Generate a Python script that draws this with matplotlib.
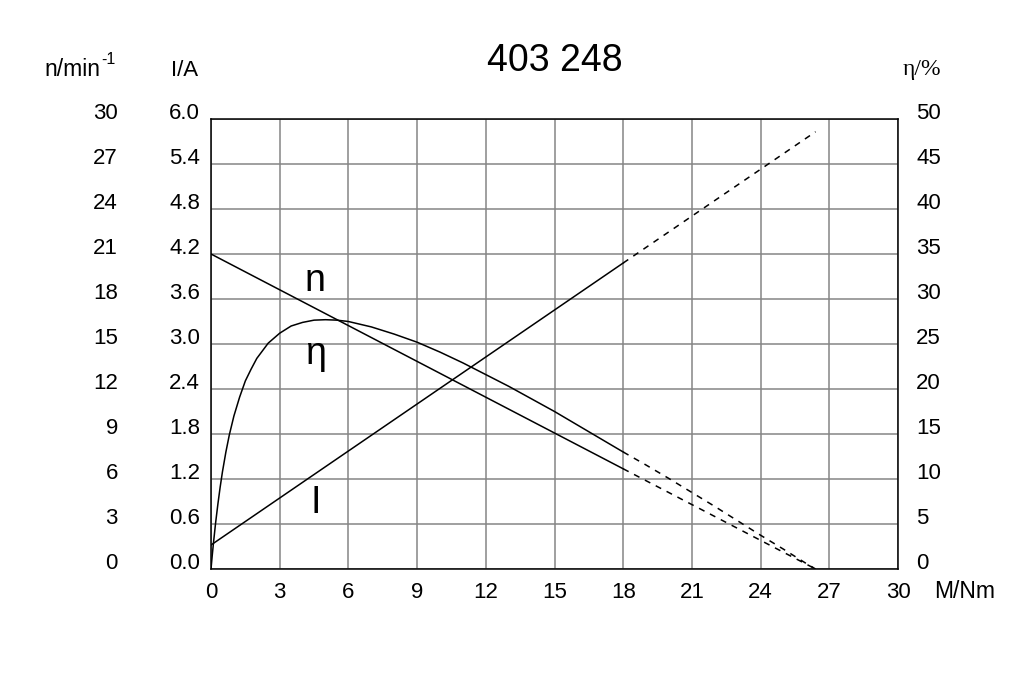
import matplotlib
matplotlib.use("Agg")
import matplotlib.pyplot as plt

plt.rcParams['font.family'] = ['Liberation Sans', 'DejaVu Sans']

title = "403 248"
x_ticks = [0, 3, 6, 9, 12, 15, 18, 21, 24, 27, 30]
i_ticks = [0.0, 0.6, 1.2, 1.8, 2.4, 3.0, 3.6, 4.2, 4.8, 5.4, 6.0]
n_ticks = [0, 3, 6, 9, 12, 15, 18, 21, 24, 27, 30]
eta_ticks = [0, 5, 10, 15, 20, 25, 30, 35, 40, 45, 50]

# speed n (min^-1)
n_M_solid = [0, 18]
n_solid = [21.0, 6.68]
n_M_dash = [18, 26.4]
n_dash = [6.68, 0.0]

# current I (A)
i_M_solid = [0, 18]
i_solid = [0.32, 4.08]
i_M_dash = [18, 26.4]
i_dash = [4.08, 5.83]

# efficiency eta (%)
eta_M_solid = [0, 0.05, 0.1, 0.2, 0.3, 0.4, 0.5, 0.65, 0.8, 1.0, 1.25, 1.5, 1.75, 2,
               2.5, 3, 3.5, 4, 4.5, 5, 5.5, 6, 7, 8, 9, 10, 11, 12, 13, 14, 15, 16, 17, 18]
eta_solid = [0, 1.4, 2.7, 5.1, 7.2, 9.1, 10.8, 13.0, 14.9, 17.0, 19.1, 20.9, 22.2, 23.4,
             25.1, 26.2, 27.0, 27.4, 27.65, 27.7, 27.65, 27.5, 26.9, 26.1, 25.2, 24.1,
             22.9, 21.6, 20.3, 18.9, 17.5, 16.0, 14.5, 13.0]
eta_M_dash = [18, 19, 20, 21, 22, 23, 24, 25, 26, 26.4]
eta_dash = [13.0, 11.55, 10.05, 8.5, 6.95, 5.35, 3.75, 2.2, 0.6, 0.0]

W, H = 1021, 681
fig = plt.figure(figsize=(W / 100, H / 100), dpi=100)
left, right, bottom, top = 211, 898, 569, 119
ax = fig.add_axes([left / W, 1 - bottom / H, (right - left) / W, (bottom - top) / H])

fs = 16
ax.set_xlim(0, 30)
ax.set_ylim(0, 6)
ax.set_xticks(x_ticks)
ax.set_xticklabels([str(v) for v in x_ticks], fontsize=fs)
ax.set_yticks(i_ticks)
ax.set_yticklabels([f"{v:.1f}" for v in i_ticks], fontsize=fs, va='baseline')
ax.tick_params(length=0)
ax.tick_params(axis='x', pad=9.5)
ax.tick_params(axis='y', pad=8)
ax.grid(True, color='#858585', lw=1.1)
ax.set_axisbelow(True)
for s in ax.spines.values():
    s.set_color('black')
    s.set_linewidth(1.1)

ax_eta = ax.twinx()
ax_eta.set_ylim(0, 50)
ax_eta.set_yticks(eta_ticks)
ax_eta.set_yticklabels([str(v) for v in eta_ticks], fontsize=fs, va='baseline')
ax_eta.tick_params(length=0, pad=13)
for s in ax_eta.spines.values():
    s.set_visible(False)

ax_n = ax.twinx()
ax_n.set_ylim(0, 30)
ax_n.set_yticks(n_ticks)
ax_n.set_yticklabels([str(v) for v in n_ticks], fontsize=fs, va='baseline')
ax_n.yaxis.tick_left()
ax_n.tick_params(length=0, pad=67)
for s in ax_n.spines.values():
    s.set_visible(False)

lw = 1.1
dash = (4, 4)
ax_n.plot(n_M_solid, n_solid, color='black', lw=lw)
ax_n.plot(n_M_dash, n_dash, color='black', lw=lw, dashes=dash)
ax.plot(i_M_solid, i_solid, color='black', lw=lw)
ax.plot(i_M_dash, i_dash, color='black', lw=lw, dashes=dash)
ax_eta.plot(eta_M_solid, eta_solid, color='black', lw=lw)
ax_eta.plot(eta_M_dash, eta_dash, color='black', lw=lw, dashes=dash)

# curve labels
ax.text(4.55, 3.84, "n", fontsize=27, ha='center', va='center')
ax.text(4.55, 2.87, "η", fontsize=27, ha='center', va='center')
ax.text(4.55, 0.88, "I", fontsize=27, ha='center', va='center')

# headers
fig.text(555 / W, 1 - 61 / H, title, fontsize=27, ha='center', va='center')
fig.text(100 / W, 1 - 76 / H, "n/min", fontsize=16.5, ha='right', va='baseline')
fig.text(101 / W, 1 - 64 / H, "-1", fontsize=11.5, ha='left', va='baseline')
fig.text(185 / W, 1 - 70 / H, "I/A", fontsize=16, ha='center', va='center')
fig.text(922 / W, 1 - 69 / H, "η/%", fontsize=17, ha='center', va='center',
         family=['Liberation Serif', 'DejaVu Serif'])
fig.text(934 / W, 1 - 591 / H, "M/Nm", fontsize=16.5, ha='left', va='center')

fig.savefig("out.png", dpi=100)
